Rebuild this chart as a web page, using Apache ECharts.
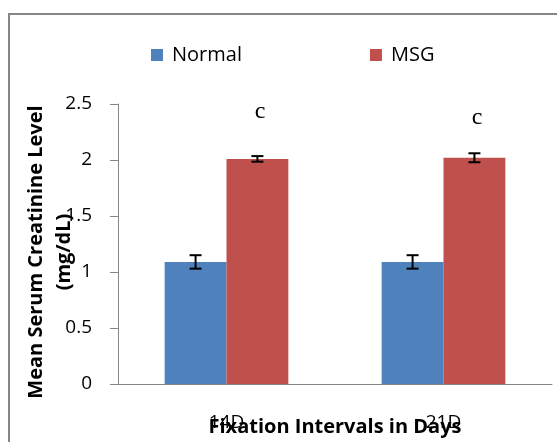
<!DOCTYPE html>
<html>
<head>
<meta charset="utf-8">
<script src="https://cdn.jsdelivr.net/npm/echarts@6/dist/echarts.min.js"></script>
<style>
  html, body { margin: 0; padding: 0; background: #fff; }
  #chart { width: 557px; height: 442px; }
</style>
</head>
<body>
<div id="chart"></div>
<script>
// Serum creatinine by fixation interval
const categories = ['14D', '21D'];
const normalValues = [1.09, 1.09];
const msgValues = [2.01, 2.02];
const normalErr = [0.06, 0.06];
const msgErr = [0.025, 0.04];
const sigLetters = ['c', 'c'];
const sigLevels = [2.43, 2.375];

const FONT = 'Open Sans';
const chart = echarts.init(document.getElementById('chart'), null, { renderer: 'canvas' });

// error bars drawn at the centre of each bar in a two-bar group
function errorSeries(name, values, errs, seriesIndex) {
  return {
    type: 'custom',
    name: name + ' err',
    z: 5,
    data: values.map((v, i) => [i, v - errs[i], v + errs[i]]),
    renderItem: function (params, api) {
      const ci = api.value(0);
      const lo = api.coord([ci, api.value(1)]);
      const hi = api.coord([ci, api.value(2)]);
      const band = api.size([1, 0])[0];
      const barW = band * 0.285;
      const x = lo[0] + (seriesIndex === 0 ? -barW / 2 : barW / 2);
      const cap = 6;
      const style = { stroke: '#000', lineWidth: 2 };
      return {
        type: 'group',
        children: [
          { type: 'line', shape: { x1: x, y1: lo[1], x2: x, y2: hi[1] }, style },
          { type: 'line', shape: { x1: x - cap, y1: lo[1], x2: x + cap, y2: lo[1] }, style },
          { type: 'line', shape: { x1: x - cap, y1: hi[1], x2: x + cap, y2: hi[1] }, style }
        ]
      };
    }
  };
}

const option = {
  animation: false,
  graphic: [
    {
      type: 'rect',
      shape: { x: 9, y: 14, width: 600, height: 500 },
      style: { fill: 'none', stroke: '#868686', lineWidth: 2 },
      z: -1
    }
  ],
  legend: {
    data: ['Normal', 'MSG'],
    left: 146,
    top: 40,
    icon: 'rect',
    itemWidth: 12,
    itemHeight: 12,
    itemGap: 128,
    textStyle: { fontFamily: FONT, fontSize: 20, color: '#000', padding: [0, 0, 0, 4] }
  },
  grid: { left: 118, right: 5, top: 104, bottom: 58, containLabel: false, outerBoundsMode: 'none' },
  xAxis: {
    type: 'category',
    data: categories,
    name: 'Fixation Intervals in Days',
    nameLocation: 'middle',
    nameGap: 33,
    nameMoveOverlap: false,
    nameTextStyle: { fontFamily: FONT, fontSize: 20, fontWeight: 'bold', color: '#000' },
    axisLine: { lineStyle: { color: '#868686', width: 1 } },
    axisTick: { show: false },
    axisLabel: { fontFamily: FONT, fontSize: 19, color: '#000', margin: 29 }
  },
  yAxis: {
    type: 'value',
    min: 0,
    max: 2.5,
    interval: 0.5,
    name: 'Mean Serum Creatinine Level\n(mg/dL)',
    nameLocation: 'middle',
    nameRotate: 90,
    nameGap: 40,
    nameMoveOverlap: false,
    nameTextStyle: {
      fontFamily: FONT, fontSize: 20, fontWeight: 'bold', color: '#000',
      lineHeight: 28, padding: [0, 16, 0, 0]
    },
    axisLine: { show: true, lineStyle: { color: '#868686', width: 1 } },
    axisTick: { show: true, length: 8, lineStyle: { color: '#868686' } },
    splitLine: { show: false },
    axisLabel: {
      fontFamily: FONT, fontSize: 19, color: '#000', margin: 26,
      formatter: v => String(v)
    }
  },
  series: [
    {
      name: 'Normal',
      type: 'bar',
      data: normalValues,
      barGap: '0%',
      barCategoryGap: '43%',
      itemStyle: { color: '#4F81BD' }
    },
    {
      name: 'MSG',
      type: 'bar',
      data: msgValues,
      itemStyle: { color: '#C0504D' }
    },
    errorSeries('Normal', normalValues, normalErr, 0),
    errorSeries('MSG', msgValues, msgErr, 1),
    {
      type: 'custom',
      name: 'sig',
      data: sigLevels.map((v, i) => [i, v]),
      renderItem: function (params, api) {
        const p = api.coord([api.value(0), api.value(1)]);
        const band = api.size([1, 0])[0];
        return {
          type: 'text',
          style: {
            x: p[0] + band * 0.155,
            y: p[1],
            text: sigLetters[params.dataIndex],
            font: '24px "Liberation Serif"',
            fill: '#000',
            align: 'center',
            verticalAlign: 'middle'
          }
        };
      }
    }
  ]
};

chart.setOption(option);
</script>
</body>
</html>
